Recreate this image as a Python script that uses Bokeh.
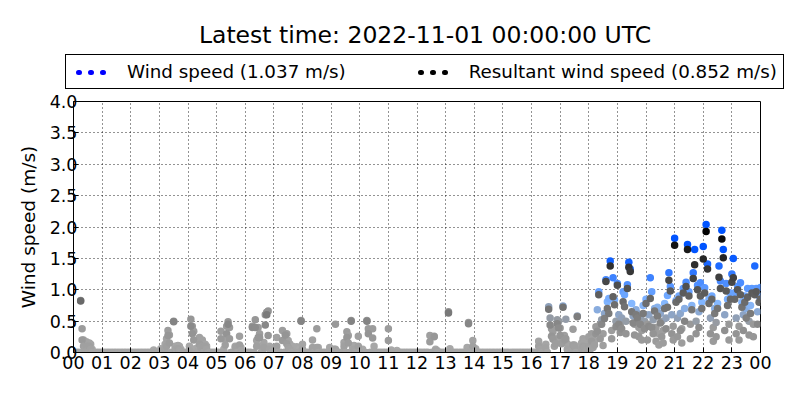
import numpy as np
from bokeh.plotting import figure
from bokeh.layouts import column
from bokeh.models import (Range1d, FixedTicker, Legend, LegendItem, Label,
                          NumeralTickFormatter, ColumnDataSource)
from bokeh.embed import file_html
from bokeh.resources import INLINE

title_text = "Latest time: 2022-11-01 00:00:00 UTC"
hour_labels = ["00", "01", "02", "03", "04", "05", "06", "07", "08", "09", "10", "11",
               "12", "13", "14", "15", "16", "17", "18", "19", "20", "21", "22", "23", "00"]
hour_ticks = list(range(25))
y_ticks = [0.0, 0.5, 1.0, 1.5, 2.0, 2.5, 3.0, 3.5, 4.0]
sample_minutes = 3
latest_wind = 1.037
latest_resultant = 0.852
wind_label = "Wind speed (1.037 m/s)"
resultant_label = "Resultant wind speed (0.852 m/s)"

# wind speed (m/s), one row per hour, samples every 3 minutes
wind_speed = [
    0, 0, 0, 0, 0, .83, .38, .2, .16, .17, .12, .15, .13, .05, 0, 0, 0, 0, 0, 0,
    0, 0, 0, 0, 0, 0, 0, 0, 0, 0, 0, 0, 0, 0, 0, 0, 0, 0, 0, 0,
    0, 0, 0, 0, 0, 0, 0, 0, 0, 0, 0, 0, 0, 0, 0, 0, .04, 0, 0, 0,
    0, .06, 0, 0, .13, .22, .35, .28, 0, 0, .5, .1, .07, .11, .1, .05, 0, 0, 0, 0,
    0, .1, .53, .42, .34, .06, 0, .08, .24, .2, .2, 0, .13, .1, 0, 0, 0, 0, 0, 0,
    0, 0, 0, .34, 0, .05, .22, .42, .49, .4, 0, 0, 0, .1, .08, 0, .26, .08, 0, 0,
    0, 0, 0, 0, 0, .42, 0, .52, .19, .4, .3, .1, 0, .16, .6, .64, .66, .1, .08, 0,
    0, 0, .24, 0, 0, 0, .35, 0, .3, .3, .19, .14, 0, .1, 0, 0, .09, 0, .05, .51,
    .13, 0, 0, 0, 0, 0, 0, .2, 0, 0, .38, .08, 0, 0, 0, 0, 0, 0, 0, .08,
    0, 0, .05, .45, 0, 0, 0, 0, 0, .16, 0, .33, .27, 0, .51, .08, .11, .08, 0, .26,
    0, 0, .05, 0, 0, .51, .38, 0, 0, .38, .1, 0, 0, 0, 0, 0, 0, 0, 0, 0,
    .38, 0, .04, 0, 0, 0, .03, 0, 0, 0, 0, 0, 0, 0, 0, 0, 0, 0, 0, 0,
    0, 0, 0, 0, 0, 0, 0, 0, 0, .27, 0, 0, .26, .05, .03, 0, 0, 0, 0, 0,
    0, 0, .65, .06, 0, 0, 0, 0, 0, 0, 0, 0, 0, 0, 0, .08, .48, 0, 0, .19,
    0, .06, 0, 0, 0, 0, 0, 0, 0, 0, 0, 0, 0, 0, 0, 0, 0, 0, 0, 0,
    0, 0, 0, 0, 0, 0, 0, 0, 0, 0, 0, 0, 0, 0, 0, 0, 0, 0, 0, 0,
    0, 0, 0, 0, 0, .18, .1, .07, 0, 0, .13, 0, .73, .55, .38, .33, .22, .21, .52, .5,
    .39, .22, .74, .27, .53, .14, 0, 0, .09, .37, .12, 0, .58, .09, 0, .15, .22, .17, .06, .1,
    .25, .12, .3, .22, .18, .41, .68, .97, .45, .52, .3, .62, 1.16, .81, .86, 1.46, .35, 1.19, .84, .5,
    1.1, .6, .44, .55, .97, .92, .5, 1.08, 1.44, 1.33, .78, .58, .45, .68, .62, .4, .55, .35, .75, .5,
    .85, .45, .6, 1.19, .97, .52, .7, .4, .72, .3, .62, .5, .35, .78, .55, .91, 1.27, 1.05, .6, .42,
    1.82, .83, .55, .9, .62, .38, 1.02, .7, 1.12, 1.72, .97, .45, .75, 1.27, 1.64, .5, 1.07, .65, 1.11, .8,
    1.69, 1.03, 2.04, 1.41, .85, .55, .9, .4, .7, .48, .78, 1.38, 1.14, 1.95, 1.64, .6, 1.1, .85, .45, .95,
    1.25, 1.5, .95, .55, 1.05, .42, 1.11, .8, .6, .9, .7, 1.02, .5, .75, 1.02, .45, 1.38, 1.02, .65, .9,
    latest_wind,
]

# resultant wind speed (m/s), same sampling
resultant_speed = [
    0, 0, 0, 0, 0, .82, .2, .1, .05, .1, .04, .1, .05, 0, 0, 0, 0, 0, 0, 0,
    0, 0, 0, 0, 0, 0, 0, 0, 0, 0, 0, 0, 0, 0, 0, 0, 0, 0, 0, 0,
    0, 0, 0, 0, 0, 0, 0, 0, 0, 0, 0, 0, 0, 0, 0, 0, 0, 0, 0, 0,
    0, .02, 0, 0, .05, .1, .27, .15, 0, 0, .49, .05, 0, .06, .03, 0, 0, 0, 0, 0,
    0, .03, .42, .3, .2, 0, 0, 0, .13, .08, .1, 0, .1, .05, 0, 0, 0, 0, 0, 0,
    0, 0, 0, .22, 0, 0, .12, .3, .45, .22, 0, 0, 0, .08, 0, 0, .12, .03, 0, 0,
    0, 0, 0, 0, 0, .4, 0, .4, .1, .24, .24, 0, 0, .08, .44, .6, .27, .05, 0, 0,
    0, 0, .1, 0, 0, 0, .19, 0, .28, .14, .08, .05, 0, 0, 0, 0, 0, 0, 0, .5,
    .05, 0, 0, 0, 0, 0, 0, .08, 0, 0, .08, 0, 0, 0, 0, 0, 0, 0, 0, 0,
    0, 0, 0, .05, 0, 0, 0, 0, 0, .1, 0, .24, .15, 0, .5, 0, .05, 0, 0, .1,
    0, 0, 0, 0, 0, .5, .3, 0, 0, .23, 0, 0, 0, 0, 0, 0, 0, 0, 0, 0,
    .19, 0, 0, 0, 0, 0, 0, 0, 0, 0, 0, 0, 0, 0, 0, 0, 0, 0, 0, 0,
    0, 0, 0, 0, 0, 0, 0, 0, 0, .17, 0, 0, .25, .03, 0, 0, 0, 0, 0, 0,
    0, 0, .63, 0, 0, 0, 0, 0, 0, 0, 0, 0, 0, 0, 0, 0, .46, 0, 0, .1,
    0, 0, 0, 0, 0, 0, 0, 0, 0, 0, 0, 0, 0, 0, 0, 0, 0, 0, 0, 0,
    0, 0, 0, 0, 0, 0, 0, 0, 0, 0, 0, 0, 0, 0, 0, 0, 0, 0, 0, 0,
    0, 0, 0, 0, 0, .1, .05, 0, 0, 0, .07, 0, .69, .44, .26, .21, .1, .14, .46, .39,
    .27, .14, .72, .2, .22, .05, 0, 0, .03, .12, .09, 0, .57, 0, 0, .06, .1, .08, 0, .04,
    .1, .05, .18, .08, .12, .3, .34, .92, .22, .45, .11, .54, 1.13, .7, .62, 1.38, .22, .89, .76, .41,
    1.07, .45, .32, .38, .81, .73, .3, 1.02, 1.36, 1.29, .65, .47, .28, .6, .55, .25, .45, .2, .62, .38,
    .78, .2, .42, .86, .4, .3, .66, .18, .58, .12, .47, .25, .15, .7, .38, .72, 1.15, .98, .3, .2,
    1.71, .8, .25, .85, .35, .15, .95, .5, 1.05, 1.64, .9, .22, .68, 1.18, 1.4, .3, 1.0, .4, .9, .7,
    1.49, .95, 1.93, 1.33, .78, .3, .85, .18, .62, .25, .7, 1.2, 1.02, 1.81, 1.51, .35, .98, .75, .2, .85,
    1.12, 1.19, .85, .3, 1.0, .2, .92, .72, .35, .8, .55, .88, .28, .62, .95, .25, .92, .97, .45, .8,
    latest_resultant,
]

FONT = "DejaVu Sans"
W = 784
HEAD_H = 91
MAIN_H = 301

hours = np.arange(len(wind_speed)) * sample_minutes / 60.0
ws = np.array(wind_speed, dtype=float)
rs = np.array(resultant_speed, dtype=float)


def to_hex(rgb):
    r, g, b = [int(round(max(0, min(1, c)) * 255)) for c in rgb]
    return "#%02x%02x%02x" % (r, g, b)


def wind_colors(v, t):
    out = []
    light = np.array([0.52, 0.72, 1.0])
    blue = np.array([0.0, 0.33, 1.0])
    for vi, ti in zip(v, t):
        tf = min(max((ti - 15.5) / 2.5, 0), 1)
        s = min(max((vi - 0.45) / 1.1, 0), 1) * tf
        g = float(np.interp(vi, [0, 0.3, 0.7], [0.67, 0.62, 0.57]))
        grey = np.array([g, g, g])
        if s < 0.3:
            c = grey + (light - grey) * (s / 0.3)
        else:
            c = light + (blue - light) * ((s - 0.3) / 0.7)
        out.append(to_hex(c))
    return out


def resultant_colors(v):
    out = []
    for vi in v:
        g = float(np.interp(vi, [0, 0.3, 0.8, 1.2, 1.7, 1.95], [0.65, 0.58, 0.42, 0.25, 0.08, 0.0]))
        out.append(to_hex((g, g, g)))
    return out


def no_frame_align(fig):
    try:
        fig.frame_align = False
    except Exception:
        pass


# ---------- header: title + legend ----------
head = figure(width=W, height=HEAD_H, output_backend="svg", toolbar_location=None,
              x_range=Range1d(0, W), y_range=Range1d(0, HEAD_H),
              x_axis_type=None, y_axis_type=None, min_border=0)
head.outline_line_color = None
head.background_fill_color = "white"
head.border_fill_color = "white"
no_frame_align(head)

head.add_layout(Label(x=424.5, y=57, text=title_text, text_align="center",
                      text_baseline="alphabetic", text_font=FONT, text_font_size="23.5px",
                      text_color="black"))

lw = head.line(x=[-50, -40], y=[-50, -50], line_color="blue", line_width=5,
               line_dash="1 11", line_dash_offset=-6, line_cap="round")
lr = head.line(x=[-50, -40], y=[-50, -50], line_color="black", line_width=5,
               line_dash="1 11", line_dash_offset=-6, line_cap="round")

legend = Legend(items=[LegendItem(label=wind_label, renderers=[lw]),
                       LegendItem(label=resultant_label, renderers=[lr])],
                orientation="horizontal", location=(65, 2),
                label_text_font=FONT, label_text_font_size="18.3px", label_text_color="black",
                glyph_width=36, glyph_height=20, label_height=21, label_standoff=19, spacing=68,
                padding=6, margin=0, border_line_color="black", border_line_width=1,
                border_line_alpha=1, background_fill_alpha=1)
head.add_layout(legend, "center")

# ---------- main plot ----------
p = figure(width=W, height=MAIN_H, output_backend="svg", toolbar_location=None,
           x_range=Range1d(0, 24), y_range=Range1d(0, 4),
           min_border_left=73, min_border_right=24, min_border_bottom=40, min_border_top=10)
p.background_fill_color = "white"
p.border_fill_color = "white"
p.outline_line_color = "black"
p.outline_line_width = 1
no_frame_align(p)

src_w = ColumnDataSource(dict(x=hours.tolist(), y=ws.tolist(), c=wind_colors(ws, hours)))
src_r = ColumnDataSource(dict(x=hours.tolist(), y=rs.tolist(), c=resultant_colors(rs)))
p.scatter("x", "y", source=src_w, size=7.5, fill_color="c", line_color=None)
p.scatter("x", "y", source=src_r, size=7.5, fill_color="c", line_color=None)

xt = FixedTicker(ticks=hour_ticks)
yt = FixedTicker(ticks=y_ticks)

for ax in p.xaxis:
    ax.ticker = xt
    ax.major_label_overrides = {i: lab for i, lab in zip(hour_ticks, hour_labels)}
    ax.major_label_standoff = 3
for ax in p.yaxis:
    ax.ticker = yt
    ax.formatter = NumeralTickFormatter(format="0.0")
    ax.axis_label = "Wind speed (m/s)"
    ax.axis_label_text_font = FONT
    ax.axis_label_text_font_size = "18.5px"
    ax.axis_label_text_font_style = "normal"
    ax.axis_label_text_color = "black"
    ax.axis_label_standoff = 8
    ax.major_label_standoff = -4

for ax in list(p.xaxis) + list(p.yaxis):
    ax.major_label_text_font = FONT
    ax.major_label_text_font_size = "17.5px"
    ax.major_label_text_color = "black"
    ax.major_tick_in = 5
    ax.major_tick_out = 0
    ax.minor_tick_line_color = None
    ax.axis_line_color = "black"
    ax.major_tick_line_color = "black"

p.xgrid.ticker = xt
p.ygrid.ticker = yt
for g in (p.xgrid, p.ygrid):
    g.grid_line_color = "black"
    g.grid_line_dash = "1 3"
    g.grid_line_width = 1
    g.grid_line_alpha = 0.85

layout = column(head, p, spacing=0)
open("out.html", "w").write(file_html(layout, INLINE))
